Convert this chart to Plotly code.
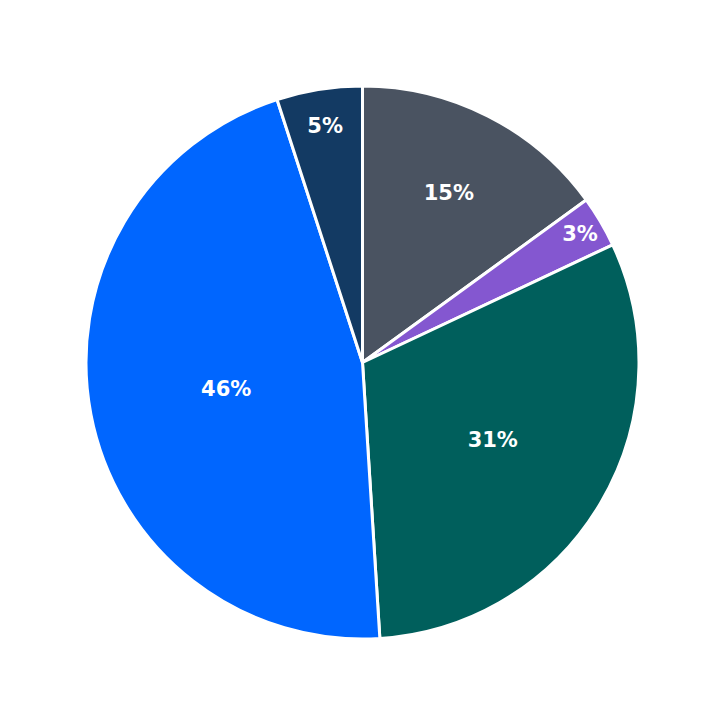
import plotly.graph_objects as go

labels = ["A", "B", "C", "D", "E"]
values = [15, 3, 31, 46, 5]
colors = ["#4a5361", "#8457d0", "#005f5c", "#0066ff", "#133a63"]

fig = go.Figure(go.Pie(
    labels=labels, values=values, sort=False, direction="clockwise", rotation=0,
    marker=dict(colors=colors, line=dict(color="white", width=3)),
    textinfo="percent", textposition="inside", insidetextorientation="horizontal",
    texttemplate="<b>%{percent:.0%}</b>",
    textfont=dict(color="white", size=21, family="DejaVu Sans"),
    showlegend=False, hoverinfo="skip",
))
fig.update_layout(width=723, height=723, margin=dict(l=78, r=92, t=78, b=92),
                  paper_bgcolor="white", plot_bgcolor="white")
fig.write_html("out.html")
